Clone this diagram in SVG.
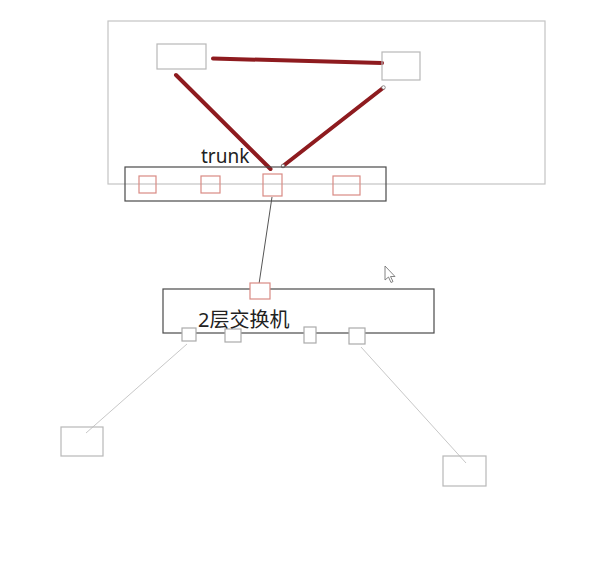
<svg xmlns="http://www.w3.org/2000/svg" width="595" height="561" viewBox="0 0 595 561">
<style>
.box{fill:none;stroke:#b8b8b8;stroke-width:1.2}
.frame{fill:none;stroke:#c4c4c4;stroke-width:1.2}
.sw{fill:none;stroke:#4a4a4a;stroke-width:1.2}
.rport{fill:none;stroke:#d98a84;stroke-width:1.2}
.gport{fill:none;stroke:#ababab;stroke-width:1.2}
.thick{stroke:#8e1b1f;stroke-width:4;stroke-linecap:round;fill:none}
.thin{stroke:#555;stroke-width:1;fill:none}
.light{stroke:#c8c8c8;stroke-width:1;fill:none}
.dot{fill:#fff;stroke:#777;stroke-width:0.8}
text{fill:#222}
</style>
<rect width="595" height="561" fill="#fff"/>
<g id="frame"><rect class="frame" x="108" y="21" width="437" height="163"/></g>
<g id="connectors">
<line class="thick" x1="213" y1="58.5" x2="382" y2="63"/>
<line class="thick" x1="176" y1="75" x2="270.5" y2="169"/>
<line class="thick" x1="383" y1="88" x2="283" y2="166"/>
<circle class="dot" cx="383.5" cy="87.5" r="1.8"/>
<circle class="dot" cx="283" cy="166" r="1.8"/>
<line class="thin" x1="272" y1="197" x2="259" y2="284"/>
<line class="light" x1="187" y1="344" x2="86" y2="433"/>
<line class="light" x1="361" y1="347" x2="466" y2="463"/>
</g>
<g id="node-a"><rect class="box" x="157" y="44" width="49" height="25"/></g>
<g id="node-b"><rect class="box" x="382" y="52" width="38" height="28"/></g>
<g id="trunk-switch">
<rect class="sw" x="125" y="167" width="261" height="34"/>
<rect class="rport" x="139" y="176" width="17" height="17"/>
<rect class="rport" x="201" y="176" width="19" height="17"/>
<rect class="rport" x="263" y="174" width="19" height="22"/>
<rect class="rport" x="333" y="176" width="27" height="19"/>
<text x="201" y="163" font-family="'Noto Sans','DejaVu Sans',sans-serif" font-size="19">trunk</text>
</g>
<g id="l2-switch">
<rect class="sw" x="163" y="289" width="271" height="44"/>
<rect class="rport" x="250" y="283" width="20" height="16" fill="#fff" style="fill:#fff"/>
<rect class="gport" x="182" y="328" width="14" height="13" style="fill:#fff"/>
<rect class="gport" x="225" y="329" width="16" height="13" style="fill:#fff"/>
<rect class="gport" x="304" y="327" width="12" height="16" style="fill:#fff"/>
<rect class="gport" x="349" y="328" width="16" height="16" style="fill:#fff"/>
<text x="198" y="327" font-family="'Noto Sans','Noto Sans CJK SC',sans-serif" font-size="20">2层交换机</text>
</g>
<g id="host-left"><rect class="box" x="61" y="427" width="42" height="29"/></g>
<g id="host-right"><rect class="box" x="443" y="456" width="43" height="30"/></g>
<polygon points="385,266 385,280 388.5,277 391,282.5 393,281.5 390.5,276.5 395,276.5" fill="#fff" stroke="#777" stroke-width="0.9"/>
</svg>
